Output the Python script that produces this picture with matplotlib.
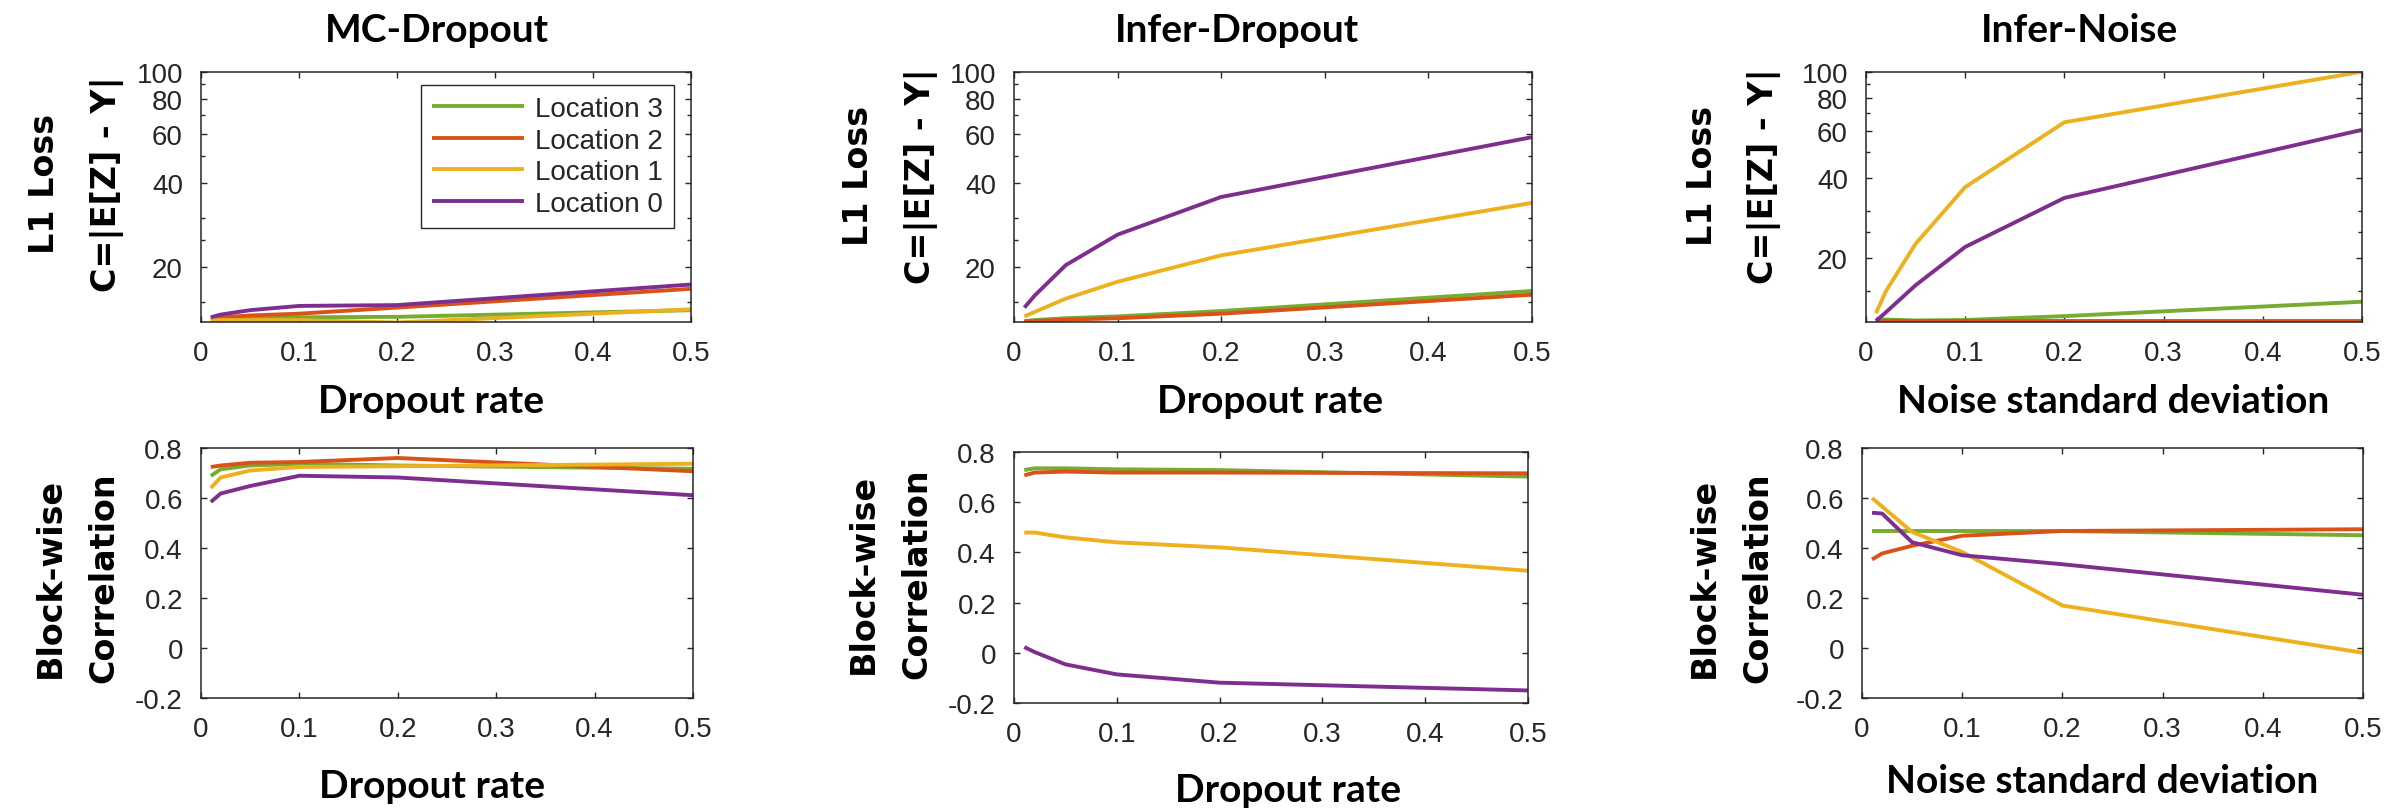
import matplotlib
matplotlib.use("Agg")
import matplotlib.pyplot as plt
from matplotlib.ticker import FixedLocator, NullFormatter

# ---------------- data ----------------
rates = [0.01, 0.02, 0.05, 0.1, 0.2, 0.5]
series_names = ["Location 3", "Location 2", "Location 1", "Location 0"]
colors = ["#77AC30", "#D95319", "#EDB120", "#7E2F8E"]

titles = ["MC-Dropout", "Infer-Dropout", "Infer-Noise"]
xlabels = ["Dropout rate", "Dropout rate", "Noise standard deviation"]

# L1 loss (top row), order: Location 3, 2, 1, 0
mc_loss_l3 = [12.9, 12.95, 13.05, 13.2, 13.25, 14.0]
mc_loss_l2 = [13.1, 13.2, 13.4, 13.6, 14.3, 16.7]
mc_loss_l1 = [12.9, 12.9, 12.9, 12.9, 12.65, 14.1]
mc_loss_l0 = [13.2, 13.5, 14.0, 14.5, 14.6, 17.3]

id_loss_l3 = [12.8, 12.9, 13.1, 13.3, 13.9, 16.4]
id_loss_l2 = [12.75, 12.8, 12.95, 13.1, 13.6, 15.9]
id_loss_l1 = [13.3, 13.8, 15.4, 17.7, 22.0, 33.9]
id_loss_l0 = [14.3, 15.8, 20.3, 26.1, 35.6, 58.3]

in_loss_l3 = [11.8, 11.75, 11.65, 11.7, 12.1, 13.7]
in_loss_l2 = [11.65, 11.65, 11.65, 11.65, 11.65, 11.65]
in_loss_l1 = [12.4, 15.0, 22.6, 36.9, 64.6, 100.0]
in_loss_l0 = [11.6, 12.5, 15.8, 22.0, 33.6, 60.5]

# Block-wise correlation (bottom row)
mc_corr_l3 = [0.688, 0.715, 0.73, 0.737, 0.73, 0.717]
mc_corr_l2 = [0.724, 0.73, 0.741, 0.744, 0.76, 0.707]
mc_corr_l1 = [0.64, 0.682, 0.71, 0.724, 0.727, 0.737]
mc_corr_l0 = [0.584, 0.618, 0.648, 0.689, 0.682, 0.611]

id_corr_l3 = [0.728, 0.735, 0.735, 0.731, 0.728, 0.702]
id_corr_l2 = [0.707, 0.718, 0.722, 0.718, 0.718, 0.715]
id_corr_l1 = [0.479, 0.479, 0.46, 0.44, 0.42, 0.327]
id_corr_l0 = [0.023, 0.003, -0.046, -0.086, -0.119, -0.15]

in_corr_l3 = [0.468, 0.468, 0.468, 0.468, 0.468, 0.451]
in_corr_l2 = [0.354, 0.378, 0.409, 0.449, 0.468, 0.475]
in_corr_l1 = [0.6, 0.566, 0.464, 0.384, 0.17, -0.019]
in_corr_l0 = [0.541, 0.538, 0.423, 0.371, 0.335, 0.213]

loss_data = [
    [mc_loss_l3, mc_loss_l2, mc_loss_l1, mc_loss_l0],
    [id_loss_l3, id_loss_l2, id_loss_l1, id_loss_l0],
    [in_loss_l3, in_loss_l2, in_loss_l1, in_loss_l0],
]
corr_data = [
    [mc_corr_l3, mc_corr_l2, mc_corr_l1, mc_corr_l0],
    [id_corr_l3, id_corr_l2, id_corr_l1, id_corr_l0],
    [in_corr_l3, in_corr_l2, in_corr_l1, in_corr_l0],
]

x_ticks = [0, 0.1, 0.2, 0.3, 0.4, 0.5]
x_ticklabels = ["0", "0.1", "0.2", "0.3", "0.4", "0.5"]
loss_ticks = [20, 40, 60, 80, 100]
loss_ticklabels = ["20", "40", "60", "80", "100"]
loss_minor = [15, 25, 30, 50, 70, 90]
corr_ticks = [-0.2, 0, 0.2, 0.4, 0.6, 0.8]
corr_ticklabels = ["-0.2", "0", "0.2", "0.4", "0.6", "0.8"]
loss_ylims = [(12.7, 100), (12.7, 100), (11.5, 100)]

# ---------------- layout ----------------
W, H = 2396, 812
fig = plt.figure(figsize=(W / 100, H / 100), dpi=100)

def box(l, r, t, b):
    return [l / W, 1 - b / H, (r - l) / W, (b - t) / H]

top_boxes = [box(201, 691, 72.7, 323), box(1014, 1532, 72.7, 323), box(1866, 2362, 72.7, 323)]
bot_boxes = [box(201, 693, 449, 699), box(1014, 1528, 453, 704), box(1862, 2363, 449, 699)]

title_x = [0.482, 0.43, 0.43]
top_xlabel_pos = [(0.469, -0.36), (0.494, -0.36), (0.498, -0.36)]
bot_xlabel_pos = [(0.47, -0.396), (0.533, -0.39), (0.479, -0.376)]
top_ylabel_pos = [(-0.157, 0.555), (-0.147, 0.587), (-0.171, 0.587)]
bot_ylabel_pos = [(-0.163, 0.484), (-0.156, 0.52), (-0.174, 0.484)]

frame_c = "#262626"
tick_font = "Liberation Sans"
head_font = ["Lato", "DejaVu Sans"]
ylab_font = "DejaVu Sans"

def style(ax):
    for s in ax.spines.values():
        s.set_color(frame_c)
        s.set_linewidth(1.1)
    ax.tick_params(which="both", direction="in", top=True, right=True,
                   colors=frame_c, labelcolor=frame_c, width=1.0, pad=13)
    ax.tick_params(which="major", length=4.5)
    ax.tick_params(which="minor", length=3)
    ax.set_xlim(0, 0.5)
    ax.set_xticks(x_ticks)
    ax.set_xticklabels(x_ticklabels)
    for lab in ax.get_xticklabels() + ax.get_yticklabels():
        lab.set_fontfamily(tick_font)
        lab.set_fontsize(20)

for i in range(3):
    # top: L1 loss
    ax = fig.add_axes(top_boxes[i])
    handles = []
    for vals, name, c in zip(loss_data[i], series_names, colors):
        h, = ax.plot(rates, vals, color=c, lw=2.8, label=name, solid_capstyle="butt")
        handles.append(h)
    ax.set_yscale("log")
    ax.set_ylim(*loss_ylims[i])
    ax.yaxis.set_major_locator(FixedLocator(loss_ticks))
    ax.set_yticklabels(loss_ticklabels)
    ax.yaxis.set_minor_locator(FixedLocator(loss_minor))
    ax.yaxis.set_minor_formatter(NullFormatter())
    style(ax)
    ax.text(title_x[i], 1.123, titles[i], transform=ax.transAxes, ha="center",
            va="baseline", fontsize=28, fontweight="bold", family=head_font)
    ax.set_xlabel(xlabels[i], fontsize=28, fontweight="bold", family=head_font)
    ax.xaxis.set_label_coords(*top_xlabel_pos[i])
    ax.xaxis.label.set_verticalalignment("baseline")
    ax.set_ylabel("L1 Loss\nC=|E[Z] - Y|", fontsize=24, fontweight="bold",
                  family=ylab_font, linespacing=2.1)
    ax.yaxis.set_label_coords(*top_ylabel_pos[i])
    if i == 0:
        leg = ax.legend(handles=handles, loc="upper right", bbox_to_anchor=(0.965, 0.947),
                        borderaxespad=0, prop={"family": tick_font, "size": 20},
                        handlelength=3.3, handletextpad=0.4, borderpad=0.4,
                        labelspacing=0.2, fancybox=False, framealpha=1,
                        edgecolor=frame_c)
        leg.get_frame().set_linewidth(1.0)
        for t in leg.get_texts():
            t.set_color(frame_c)

    # bottom: correlation
    ax = fig.add_axes(bot_boxes[i])
    for vals, name, c in zip(corr_data[i], series_names, colors):
        ax.plot(rates, vals, color=c, lw=2.8, label=name, solid_capstyle="butt")
    ax.set_ylim(-0.2, 0.8)
    ax.set_yticks(corr_ticks)
    ax.set_yticklabels(corr_ticklabels)
    style(ax)
    ax.set_xlabel(xlabels[i], fontsize=28, fontweight="bold", family=head_font)
    ax.xaxis.set_label_coords(*bot_xlabel_pos[i])
    ax.xaxis.label.set_verticalalignment("baseline")
    ax.set_ylabel("Block-wise\nCorrelation", fontsize=24, fontweight="bold",
                  family=ylab_font, linespacing=1.8)
    ax.yaxis.set_label_coords(*bot_ylabel_pos[i])

fig.savefig("out.png", dpi=100, facecolor="white")
